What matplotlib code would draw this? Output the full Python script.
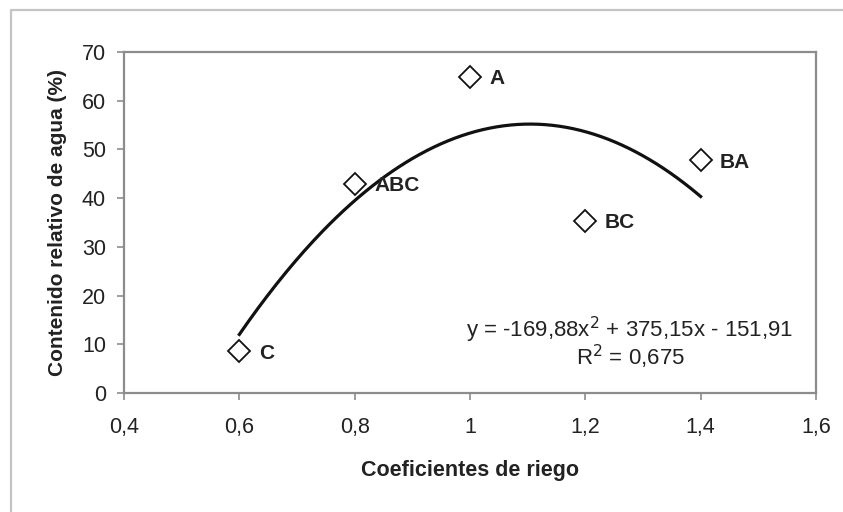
import numpy as np
import matplotlib.pyplot as plt
from matplotlib.lines import Line2D

plt.rcParams['font.family'] = ['Liberation Sans', 'DejaVu Sans']

# data
coef_riego = [0.6, 0.8, 1.0, 1.2, 1.4]
contenido = [8.6, 43.0, 64.9, 35.4, 47.8]
letras = ["C", "ABC", "A", "BC", "BA"]

# trendline coefficients as printed on the chart
a, b, c = -169.88, 375.15, -151.91
r2 = 0.675

fig = plt.figure(figsize=(8.43, 5.12), dpi=100)
# chart-area frame (only top and left edges are visible in the crop)
fig.lines.append(Line2D([11 / 843, 11 / 843, 1], [0, 1 - 9.5 / 512, 1 - 9.5 / 512],
                        transform=fig.transFigure, color="#c4c4c4", linewidth=1.6))
ax = fig.add_axes([124 / 843, 1 - 393 / 512, 692 / 843, 341 / 512])

xs = np.linspace(min(coef_riego), max(coef_riego), 200)
ax.plot(xs, a * xs**2 + b * xs + c, color="#111111", linewidth=2.3, zorder=2)
ax.plot(coef_riego, contenido, linestyle="none", marker="D", markersize=11.5,
        markerfacecolor="white", markeredgecolor="#111111", markeredgewidth=1.3, zorder=3)

for x, y, t in zip(coef_riego, contenido, letras):
    ax.annotate(t, (x, y), xytext=(14, -1.5), textcoords="offset points",
                ha="left", va="center", fontsize=15, fontweight="bold", color="#222222")

ax.text(1.277, 12.9, "y = -169,88x$^2$ + 375,15x - 151,91",
        ha="center", va="center", fontsize=16, color="#222222")
ax.text(1.279, 7.4, "R$^2$ = " + f"{r2:.3f}".replace(".", ","),
        ha="center", va="center", fontsize=16, color="#222222")

ax.set_xlim(0.4, 1.6)
ax.set_ylim(0, 70)
ax.set_xticks([0.4, 0.6, 0.8, 1.0, 1.2, 1.4, 1.6])
ax.set_xticklabels(["0,4", "0,6", "0,8", "1", "1,2", "1,4", "1,6"])
ax.set_yticks(range(0, 71, 10))
for s in ax.spines.values():
    s.set_color("#8c8c8c")
    s.set_linewidth(1.6)
ax.tick_params(direction="out", length=5, width=1.2, color="#8c8c8c",
               labelsize=15.5, labelcolor="#222222", pad=8)
ax.tick_params(axis="x", pad=12)

ax.set_xlabel("Coeficientes de riego", fontsize=15.5, fontweight="bold", color="#222222", labelpad=16)
ax.set_ylabel("Contenido relativo de agua (%)", fontsize=15, fontweight="bold", color="#222222", labelpad=11)

fig.savefig("out.png", dpi=100)
